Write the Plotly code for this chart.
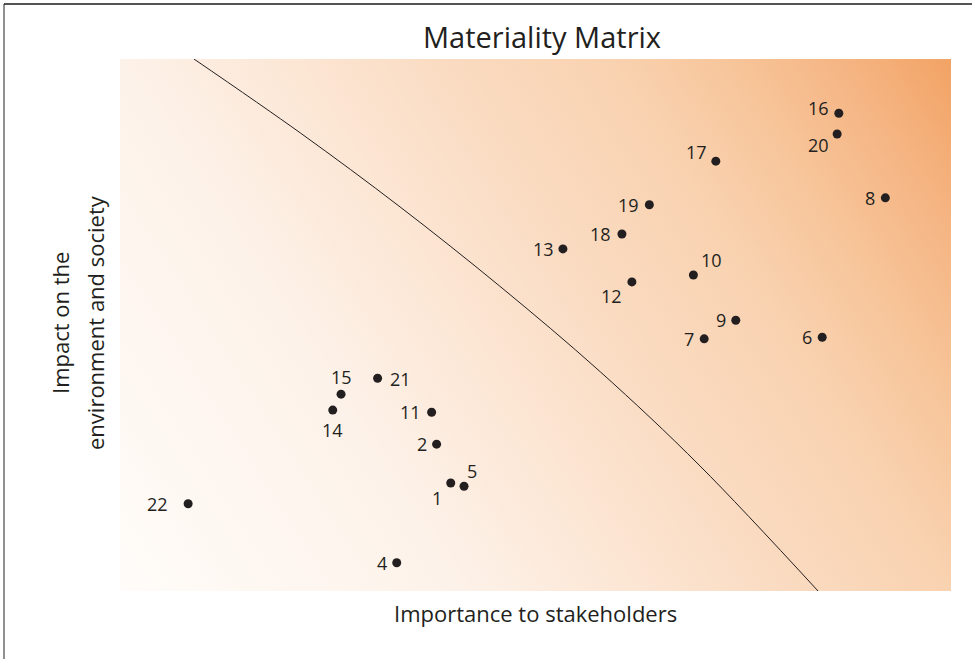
import base64
import plotly.graph_objects as go

# ---- data ----
topic_ids = ["1", "2", "4", "5", "6", "7", "8", "9", "10", "11", "12",
             "13", "14", "15", "16", "17", "18", "19", "20", "21", "22"]
importance = [3.98, 3.81, 3.33, 4.14, 8.45, 7.03, 9.21, 7.41, 6.90, 3.75, 6.16,
              5.33, 2.56, 2.66, 8.65, 7.17, 6.04, 6.37, 8.63, 3.10, 0.82]
impact = [2.03, 2.76, 0.53, 1.97, 4.77, 4.74, 7.39, 5.09, 5.94, 3.36, 5.81,
          6.43, 3.40, 3.70, 8.98, 8.08, 6.71, 7.26, 8.59, 4.00, 1.64]

# threshold curve
curve_x = [0.89, 2.17, 3.37, 4.57, 5.78, 6.98, 8.40]
curve_y = [10.0, 8.61, 7.22, 5.73, 4.12, 2.35, 0.0]

title_text = "Materiality Matrix"
x_title = "Importance to stakeholders"
y_title_lines = ["Impact on the", "environment and society"]

# label offsets in pixels (dx right, dy down) — styling only
label_offsets = {
    "1": (-14, 15), "2": (-15, 0), "4": (-15, 0), "5": (8, -15), "6": (-15, 0),
    "7": (-15, 0), "8": (-15, 0), "9": (-15, 0), "10": (18, -15), "11": (-21, 0),
    "12": (-20, 14), "13": (-19, 0), "14": (0, 20), "15": (0, -17), "16": (-20, -5),
    "17": (-19, -9), "18": (-21, 0), "19": (-21, 0), "20": (-19, 11), "21": (23, 1),
    "22": (-31, 0),
}

FONT = "Open Sans"
INK = "#231F20"
W, H = 972, 659
L, R, T, B = 120, 21, 59, 68
PW, PH = W - L - R, H - T - B

# background gradient as an SVG image (linear, bottom-left -> top-right)
svg = f'''<svg xmlns="http://www.w3.org/2000/svg" width="{PW}" height="{PH}" viewBox="0 0 {PW} {PH}">
<defs><linearGradient id="g" gradientUnits="userSpaceOnUse" x1="0" y1="{PH}" x2="{PW}" y2="0">
<stop offset="0" stop-color="#FFFCF9"/>
<stop offset="0.29" stop-color="#FDF2E9"/>
<stop offset="0.44" stop-color="#FCE6D4"/>
<stop offset="0.57" stop-color="#FADBC1"/>
<stop offset="0.71" stop-color="#F9D2B0"/>
<stop offset="0.81" stop-color="#F7C59A"/>
<stop offset="0.91" stop-color="#F5B482"/>
<stop offset="1" stop-color="#F2A364"/>
</linearGradient></defs>
<rect width="{PW}" height="{PH}" fill="url(#g)"/></svg>'''
src = "data:image/svg+xml;base64," + base64.b64encode(svg.encode()).decode()

fig = go.Figure()
fig.add_trace(go.Scatter(x=curve_x, y=curve_y, mode="lines",
                         line=dict(color="#231F20", width=1, shape="spline", smoothing=1.0),
                         hoverinfo="skip", showlegend=False))
fig.add_trace(go.Scatter(x=importance, y=impact, mode="markers",
                         marker=dict(size=9, color=INK),
                         text=topic_ids, hoverinfo="text", showlegend=False))

annotations = []
for tid, xv, yv in zip(topic_ids, importance, impact):
    dx, dy = label_offsets[tid]
    annotations.append(dict(x=xv, y=yv, xref="x", yref="y", text=tid, showarrow=False,
                            xanchor="center", yanchor="middle", xshift=dx, yshift=-dy,
                            font=dict(family=FONT, size=18, color=INK)))

annotations.append(dict(x=0.5, y=0, xref="paper", yref="paper", text=x_title,
                        showarrow=False, xanchor="center", yanchor="top", yshift=-5,
                        font=dict(family=FONT, size=22, color=INK)))
for line, px in zip(y_title_lines, [60, 95]):
    annotations.append(dict(x=(px - L) / PW, y=(H - B - 323) / PH, xref="paper", yref="paper",
                            text=line, showarrow=False, textangle=-90,
                            xanchor="center", yanchor="middle",
                            font=dict(family=FONT, size=22, color=INK)))

fig.update_layout(
    width=W, height=H,
    margin=dict(l=L, r=R, t=T, b=B),
    paper_bgcolor="white", plot_bgcolor="white",
    title=dict(text=title_text, x=(542 - L) / PW, xref="paper", xanchor="center",
               y=1 - 38 / H, yref="container", yanchor="middle",
               font=dict(family=FONT, size=29, color=INK)),
    xaxis=dict(range=[0, 10], visible=False, fixedrange=True),
    yaxis=dict(range=[0, 10], visible=False, fixedrange=True),
    images=[dict(source=src, xref="paper", yref="paper", x=0, y=1, sizex=1, sizey=1,
                 xanchor="left", yanchor="top", sizing="stretch", layer="below")],
    annotations=annotations,
    shapes=[
        dict(type="line", xref="paper", yref="paper",
             x0=(4 - L) / PW, x1=(W - L) / PW, y0=(H - B - 4) / PH, y1=(H - B - 4) / PH,
             line=dict(color="#555555", width=2)),
        dict(type="line", xref="paper", yref="paper",
             x0=(4 - L) / PW, x1=(4 - L) / PW, y0=(H - B - 4) / PH, y1=(H - B - H) / PH,
             line=dict(color="#222222", width=1)),
    ],
)

fig.write_html("out.html", config={"displayModeBar": False},
               post_script="document.body.style.margin='0';document.body.style.overflow='hidden';")
